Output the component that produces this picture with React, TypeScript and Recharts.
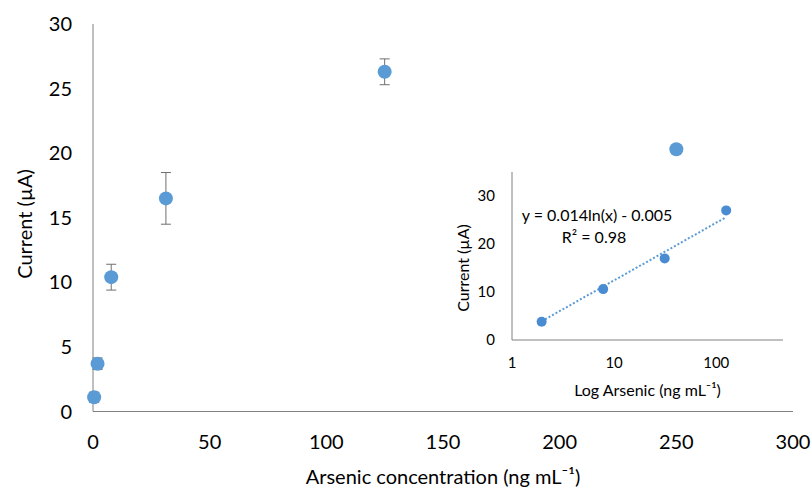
import React from 'react';
import {
  ScatterChart,
  Scatter,
  XAxis,
  YAxis,
  ErrorBar,
  Label,
  Customized,
} from 'recharts';

// main chart: concentration (ng/mL) vs current (µA)
const concentrations = [0.49, 1.95, 7.81, 31.25, 125, 250];
const currents = [1.1, 3.7, 10.4, 16.5, 26.3, 20.3];
const errors = [0.4, 0.45, 1.0, 2.0, 1.0, 0.3];
const xTicks = [0, 50, 100, 150, 200, 250, 300];
const yTicks = [0, 5, 10, 15, 20, 25, 30];

// inset: log concentration calibration
const insetConc = [1.95, 7.81, 31.25, 125];
const insetCurrents = [3.8, 10.6, 17.0, 27.0];
const trendConc = [1.95, 125];
const trendCurrents = [3.9, 25.6];
const insetXTicks = [1, 10, 100];
const insetYTicks = [0, 10, 20, 30];
const equation = 'y = 0.014ln(x) - 0.005';
const rSquared = 'R² = 0.98';

const FONT = 'Lato, "Open Sans", sans-serif';
const AXIS = '#808080';
const BLUE = '#5B9BD5';
const INSET_BLUE = '#4A8CD2';

const mainData = concentrations.map((x, i) => ({ x, y: currents[i], err: errors[i] }));
const insetData = insetConc.map((x, i) => ({ x, y: insetCurrents[i] }));
const trendData = trendConc.map((x, i) => ({ x, y: trendCurrents[i] }));

const MainDot = (p: any) => <circle cx={p.cx} cy={p.cy} r={7} fill={BLUE} />;
const InsetDot = (p: any) => <circle cx={p.cx} cy={p.cy} r={5} fill={INSET_BLUE} />;

const MainYTitle = () => (
  <text
    x={24}
    y={224}
    transform="rotate(-90 24 224)"
    textAnchor="middle"
    dominantBaseline="central"
    fontFamily={FONT}
    fontSize={20}
    fill="#000"
  >
    Current (µA)
  </text>
);

const InsetYTitle = () => (
  <text
    x={32}
    y={108}
    transform="rotate(-90 32 108)"
    textAnchor="middle"
    dominantBaseline="central"
    fontFamily={FONT}
    fontSize={16}
    fill="#000"
  >
    Current (µA)
  </text>
);

const EquationText = () => (
  <g fontFamily={FONT} fontSize={16} fill="#000">
    <text x={167} y={61} textAnchor="middle">{equation}</text>
    <text x={164} y={83} textAnchor="middle">{rSquared}</text>
  </g>
);

export default function App() {
  return (
    <div style={{ position: 'absolute', left: 0, top: 0, width: 812, height: 487, background: '#fff' }}>
      <ScatterChart width={812} height={487} margin={{ top: 24, right: 19, left: 0, bottom: 0 }}>
        <XAxis
          type="number"
          dataKey="x"
          domain={[0, 300]}
          ticks={xTicks}
          height={75.5}
          tickSize={0}
          tickMargin={23}
          tick={{ fontSize: 20, fill: '#000', fontFamily: FONT }}
          stroke={AXIS}
        >
          <Label
            value="Arsenic concentration  (ng mL⁻¹)"
            position="insideBottom"
            offset={3}
            style={{ fontSize: 20, fill: '#000', fontFamily: FONT }}
          />
        </XAxis>
        <YAxis
          type="number"
          dataKey="y"
          domain={[0, 30]}
          ticks={yTicks}
          width={93}
          tickSize={0}
          tickMargin={21}
          tick={{ fontSize: 20, fill: '#000', fontFamily: FONT }}
          stroke={AXIS}
        />
        <Scatter data={mainData} shape={() => null} isAnimationActive={false}>
          <ErrorBar dataKey="err" direction="y" width={5} stroke="#6f6f6f" strokeWidth={1} />
        </Scatter>
        <Scatter data={mainData} shape={MainDot} isAnimationActive={false} />
        <Customized component={MainYTitle} />
      </ScatterChart>

      <div style={{ position: 'absolute', left: 430, top: 160 }}>
        <ScatterChart width={382} height={250} margin={{ top: 12, right: 29, left: 0, bottom: 0 }}>
          <XAxis
            type="number"
            dataKey="x"
            scale="log"
            domain={[1, 450]}
            ticks={insetXTicks}
            allowDataOverflow
            height={70}
            tickSize={0}
            tickMargin={17}
            tick={{ fontSize: 15, fill: '#000', fontFamily: FONT }}
            stroke={AXIS}
          >
            <Label
              value="Log Arsenic (ng mL⁻¹)"
              position="insideBottom"
              offset={14}
              style={{ fontSize: 16, fill: '#000', fontFamily: FONT }}
            />
          </XAxis>
          <YAxis
            type="number"
            dataKey="y"
            domain={[0, 35]}
            ticks={insetYTicks}
            width={82}
            tickSize={0}
            tickMargin={17}
            tick={{ fontSize: 15, fill: '#000', fontFamily: FONT }}
            stroke={AXIS}
          />
          <Scatter
            data={trendData}
            line={{ stroke: BLUE, strokeWidth: 2, strokeDasharray: '2 2' }}
            shape={() => null}
            isAnimationActive={false}
          />
          <Scatter data={insetData} shape={InsetDot} isAnimationActive={false} />
          <Customized component={InsetYTitle} />
          <Customized component={EquationText} />
        </ScatterChart>
      </div>
    </div>
  );
}
